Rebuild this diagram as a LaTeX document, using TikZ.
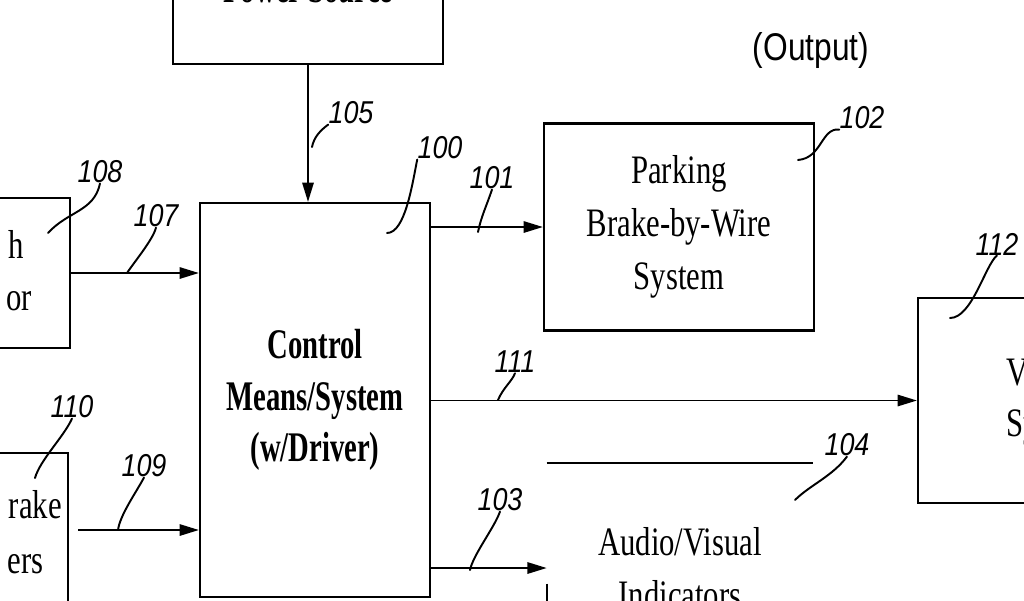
\documentclass[tikz,border=0pt]{standalone}
\usepackage{fontspec}
\setmainfont[FakeStretch=0.76]{Liberation Serif}
\newfontfamily\ctrlfont[FakeStretch=0.68]{Liberation Serif}
\newfontfamily\outfont[FakeStretch=0.82]{Liberation Sans}
\newfontfamily\numfont[FakeStretch=0.85]{Liberation Sans}
\usetikzlibrary{arrows.meta,calc}

\begin{document}
\begin{tikzpicture}[x=0.02cm, y=-0.02cm,
  box/.style={draw, line width=1.3pt, inner sep=0pt},
  blocktext/.style={align=center, font=\fontsize{23}{30}\selectfont},
  frag/.style={blocktext, inner sep=0pt, anchor=base east},
  sig/.style={line width=1pt, -{Triangle[length=11pt,width=6.5pt]}},
  lead/.style={line width=1.1pt, line cap=round},
  num/.style={font=\numfont\itshape\fontsize{18}{18}\selectfont, inner sep=0pt}]
  \useasboundingbox (0,0) rectangle (1024,600);
  \fill[white] (0,0) rectangle (1024,600);
  \clip (0,0) rectangle (1024,600);

  % Top: power box, cut by the frame
  \node[box, minimum width=5.4cm, minimum height=2cm] (pwr) at (308,14) {};
  \node[font=\ctrlfont\bfseries\fontsize{24}{29}\selectfont] (pwrtxt) at (308,-11) {Power Source};

  % Middle: control block
  \node[box, minimum width=4.6cm, minimum height=7.88cm, align=center,
        font=\ctrlfont\bfseries\fontsize{24}{29.5}\selectfont] (ctrl) at (315,400) {Control\\Means/System\\(w/Driver)};

  % Outputs
  \node[font=\outfont\fontsize{22}{22}\selectfont] (outlbl) at (811,50) {(Output)};
  \node[box, minimum width=5.4cm, minimum height=4.14cm, blocktext] (park) at (679,227) {Parking\\Brake-by-Wire\\System};
  \node[minimum width=5.32cm, minimum height=4.2cm, blocktext] (av) at (680,568) {Audio/Visual\\Indicators};
  \draw[line width=1.3pt] (av.north west) -- (av.north east);
  \draw[line width=1.3pt] ($(av.north west)+(0,121)$) -- (av.south west);
  \node[box, minimum width=4cm, minimum height=4.1cm] (vsys) at (1018,400.5) {};
  \node[frag, anchor=base west] (vsys1) at (1006,385) {V};
  \node[frag, anchor=base west] (vsys2) at (1006,436) {Sy};

  % Inputs, cut by the frame
  \node[box, minimum width=4cm, minimum height=3cm] (sw) at (-30,273) {};
  \node[frag] (sw1) at (24,258) {h};
  \node[frag] (sw2) at (32,310) {or};
  \node[box, minimum width=4cm, minimum height=4cm] (lev) at (-32,553) {};
  \node[frag] (lev1) at (62,518) {rake};
  \node[frag] (lev2) at (44,573) {ers};

  % Arrows
  \coordinate (in109) at (78,530);
  \draw[sig] (pwr.south) -- (pwr.south |- ctrl.north);
  \draw[sig] (sw.east) -- (sw.east -| ctrl.west);
  \draw[sig] (in109) -- (in109 -| ctrl.west);
  \draw[sig] (ctrl.east |- park.west) -- (park.west);
  \draw[sig] (ctrl.east |- vsys.west) -- (vsys.west);
  \draw[sig] (ctrl.east |- av.west) -- (av.west);

  % Reference numerals
  \node[num] (n105) at (351,113) {105};
  \node[num] (n100) at (440,148) {100};
  \node[num] (n101) at (492,178) {101};
  \node[num] (n102) at (862,118) {102};
  \node[num] (n108) at (100,172) {108};
  \node[num] (n107) at (156,216) {107};
  \node[num] (n110) at (72,407) {110};
  \node[num] (n109) at (144,466) {109};
  \node[num] (n111) at (515,362) {111};
  \node[num] (n104) at (847,445) {104};
  \node[num] (n103) at (500,500) {103};
  \node[num] (n112) at (997,244) {112};

  % Leaders
  \draw[lead] (n105.south west) .. controls +(-8,6) and +(2,-10) .. (312,147);
  \draw[lead] (n100.south west) .. controls +(-5,25) and +(18,0) .. (387,233);
  \draw[lead] (n101.south) .. controls +(-5,15) and +(3,-15) .. (478,232);
  \draw[lead] (n102.south west) .. controls +(-18,-2) and +(24,-2) .. (798,160);
  \draw[lead] (n108.south) .. controls +(-6,28) and +(20,-22) .. (48,233);
  \draw[lead] (n107.south) .. controls +(-3,12) and +(8,-12) .. (127,273);
  \draw[lead] (n110.south) .. controls +(-8,18) and +(5,-18) .. (35,478);
  \draw[lead] (n109.south) .. controls +(-8,15) and +(2,-15) .. (118,530);
  \draw[lead] (n111.south) .. controls +(-3,8) and +(5,-12) .. (498,400);
  \draw[lead] (n104.south) .. controls +(-15,20) and +(15,-15) .. (795,500);
  \draw[lead] (n103.south) .. controls +(-5,15) and +(3,-15) .. (470,570);
  \draw[lead] (n112.south) .. controls +(-12,10) and +(22,0) .. (950,318);
\end{tikzpicture}
\end{document}
